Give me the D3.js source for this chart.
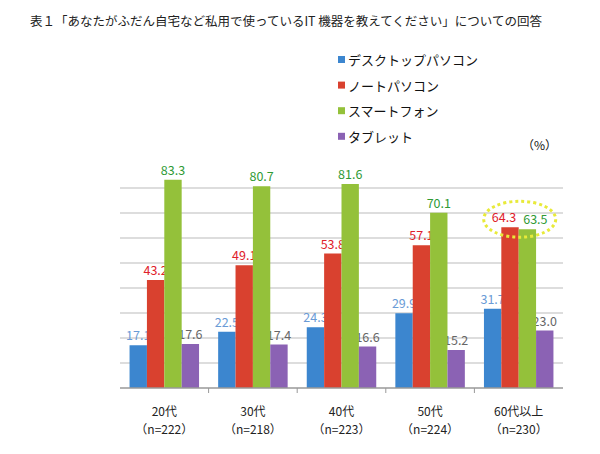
<!DOCTYPE html><html><head><meta charset="utf-8"><script src="https://cdn.jsdelivr.net/npm/d3@7"></script>
<style>body{margin:0;background:#fff}text{font-family:"Noto Sans CJK JP","Noto Sans",sans-serif}</style></head><body><svg width="600" height="454"></svg>
<script>
const categories=["20代","30代","40代","50代","60代以上"];
const samples=["（n=222）","（n=218）","（n=223）","（n=224）","（n=230）"];
const seriesNames=["デスクトップパソコン","ノートパソコン","スマートフォン","タブレット"];
const desktop=[17.1,22.5,24.3,29.9,31.7];
const notebook=[43.2,49.1,53.8,57.1,64.3];
const smartphone=[83.3,80.7,81.6,70.1,63.5];
const tablet=[17.6,17.4,16.6,15.2,23.0];
const yTicks=[0,10,20,30,40,50,60,70,80];
const colors=["#3c86cf","#d9412f","#94c13a","#8b62b4"];
const labelColors=["#6a9bd6","#e0202a","#2f9a35","#666"];
const series=[desktop,notebook,smartphone,tablet];
const svg=d3.select("svg");
const L=120,R=563,B=388;
const y=d3.scaleLinear().domain([0,80]).range([B,188]);
const x0=d3.scaleBand().domain(categories).range([L,R]);
const x1=d3.scaleBand().domain(d3.range(4)).range([0,x0.bandwidth()]).paddingOuter(0.55);
svg.append("text").attr("x",30).attr("y",26).attr("font-size",12.5).attr("fill","#222").text("表１「あなたがふだん自宅など私用で使っているIT 機器を教えてください」についての回答");
seriesNames.forEach((n,i)=>{const yy=65+i*25.6;
svg.append("rect").attr("x",338).attr("y",yy-9).attr("width",7).attr("height",7).attr("fill",colors[i]);
svg.append("text").attr("x",348).attr("y",yy).attr("font-size",13).attr("fill","#111").text(n);});
svg.append("text").attr("x",522).attr("y",150).attr("font-size",12).attr("fill","#111").text("（%）");
svg.selectAll(".g").data(yTicks.slice(1)).enter().append("line").attr("x1",L).attr("x2",R).attr("y1",d=>y(d)).attr("y2",d=>y(d)).attr("stroke","#bbb").attr("stroke-width",1.2);
const last=categories.length-1;
series.forEach((s,i)=>{svg.selectAll(".l"+i).data(s).enter().append("text")
 .attr("x",(d,j)=>x0(categories[j])+x1(i)+x1.bandwidth()/2+(j===last?(i===1?-6:i===2?8:0):0))
 .attr("y",d=>y(d)-5).attr("text-anchor","middle").attr("font-size",12.5).attr("fill",labelColors[i]).text(d=>d.toFixed(1));});
series.forEach((s,i)=>{svg.selectAll(".b"+i).data(s).enter().append("rect").attr("x",(d,j)=>x0(categories[j])+x1(i)).attr("width",x1.bandwidth()).attr("y",d=>y(d)).attr("height",d=>B-y(d)).attr("fill",colors[i]);});
svg.append("line").attr("x1",L).attr("x2",R).attr("y1",B).attr("y2",B).attr("stroke","#999").attr("stroke-width",1.5);
categories.slice(1).forEach(c=>svg.append("line").attr("x1",x0(c)).attr("x2",x0(c)).attr("y1",B).attr("y2",B+5).attr("stroke","#999"));
categories.forEach((c,j)=>{const cx=x0(c)+x0.bandwidth()/2;
svg.append("text").attr("x",cx).attr("y",416).attr("text-anchor","middle").attr("font-size",12).attr("fill","#222").text(c);
svg.append("text").attr("x",cx).attr("y",434).attr("text-anchor","middle").attr("font-size",12).attr("fill","#222").text(samples[j]);});
const c4=categories[last];
const ex=x0(c4)+x1(1)+x1.bandwidth()+1, ey=(y(notebook[last])+y(smartphone[last]))/2-9;
svg.append("ellipse").attr("cx",ex).attr("cy",ey).attr("rx",36).attr("ry",18).attr("fill","none").attr("stroke","#e8ea3a").attr("stroke-width",3).attr("stroke-dasharray","3,3");
</script></body></html>
